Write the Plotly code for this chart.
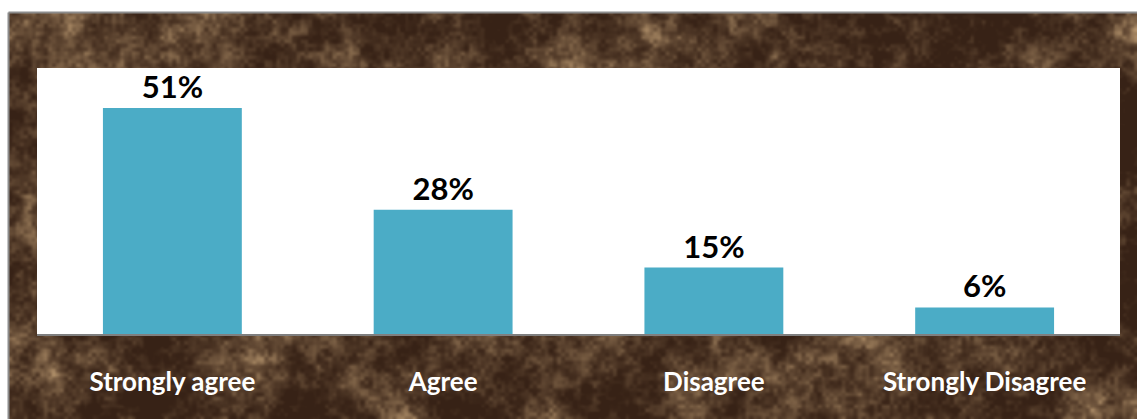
import base64
import struct
import zlib

import numpy as np
import plotly.graph_objects as go

# Survey responses
categories = ["Strongly agree", "Agree", "Disagree", "Strongly Disagree"]
shares = [51, 28, 15, 6]
share_labels = ["51%", "28%", "15%", "6%"]

W, H = 1137, 419
M_L, M_R, M_T, M_B = 37, 17, 68, 85
PW, PH = W - M_L - M_R, H - M_T - M_B


def encode_png(img):
    """Minimal RGB PNG writer (no external imaging library needed)."""
    h, w, _ = img.shape
    raw = b"".join(b"\x00" + img[r].tobytes() for r in range(h))

    def chunk(tag, data):
        c = struct.pack(">I", len(data)) + tag + data
        return c + struct.pack(">I", zlib.crc32(tag + data) & 0xFFFFFFFF)

    return (b"\x89PNG\r\n\x1a\n"
            + chunk(b"IHDR", struct.pack(">IIBBBBB", w, h, 8, 2, 0, 0, 0))
            + chunk(b"IDAT", zlib.compress(raw, 9))
            + chunk(b"IEND", b""))


def marble_texture(w, h):
    """Mottled brown marble backdrop built from layered value noise."""
    rng = np.random.default_rng(5)
    acc = np.zeros((h, w))
    amp, total = 1.0, 0.0
    for cells in (8, 22, 55, 130, 280):
        gh, gw = max(2, cells * h // w + 2), cells + 2
        grid = rng.random((gh, gw))
        ys = np.linspace(0, gh - 1.001, h)
        xs = np.linspace(0, gw - 1.001, w)
        y0, x0 = ys.astype(int), xs.astype(int)
        fy, fx = (ys - y0)[:, None], (xs - x0)[None, :]
        fy, fx = fy * fy * (3 - 2 * fy), fx * fx * (3 - 2 * fx)
        a = grid[y0][:, x0]
        b = grid[y0][:, x0 + 1]
        c = grid[y0 + 1][:, x0]
        d = grid[y0 + 1][:, x0 + 1]
        layer = (a * (1 - fx) + b * fx) * (1 - fy) + (c * (1 - fx) + d * fx) * fy
        acc += amp * layer
        total += amp
        amp *= 0.9
    n = acc / total
    n = (n - n.min()) / (n.max() - n.min())
    t = np.clip((n - 0.25) / 0.7, 0, 1) ** 1.6
    dark = np.array([55, 34, 22], float)
    light = np.array([185, 152, 112], float)
    img = dark + (light - dark) * t[..., None]
    return np.clip(img, 0, 255).astype(np.uint8)


tex = marble_texture(760, 275)
tex_uri = "data:image/png;base64," + base64.b64encode(encode_png(tex)).decode()


def px_x(p):
    return (p - M_L) / PW


def px_y(p):
    return (H - M_B - p) / PH


fig = go.Figure(
    go.Bar(
        x=categories,
        y=shares,
        text=share_labels,
        texttemplate="<b>%{text}</b>",
        textposition="outside",
        textfont=dict(family="Lato", size=31, color="#000000"),
        marker=dict(color="#4BACC6", line=dict(width=0)),
        cliponaxis=False,
        hoverinfo="skip",
    )
)

fig.update_layout(
    width=W,
    height=H,
    margin=dict(l=M_L, r=M_R, t=M_T, b=M_B),
    paper_bgcolor="#FFFFFF",
    plot_bgcolor="#FFFFFF",
    bargap=0.487,
    showlegend=False,
    font=dict(family="Lato"),
    images=[dict(
        source=tex_uri,
        xref="paper", yref="paper",
        x=px_x(9), y=px_y(13),
        sizex=px_x(W) - px_x(9), sizey=px_y(13) - px_y(H),
        xanchor="left", yanchor="top",
        sizing="stretch", layer="below",
    )],
    shapes=[
        # white chart area over the marble
        dict(type="rect", xref="paper", yref="paper", x0=0, x1=1, y0=0, y1=1,
             fillcolor="#FFFFFF", line=dict(width=0), layer="below"),
        # outer frame edges
        dict(type="line", xref="paper", yref="paper",
             x0=px_x(8.5), x1=px_x(W), y0=px_y(12.5), y1=px_y(12.5),
             line=dict(color="#8C8C8C", width=2)),
        dict(type="line", xref="paper", yref="paper",
             x0=px_x(8.5), x1=px_x(8.5), y0=px_y(12.5), y1=px_y(H),
             line=dict(color="#8C8C8C", width=2)),
    ],
)

fig.update_xaxes(
    tickvals=categories,
    ticktext=[f"<b>{c}</b>" for c in categories],
    showline=True, linecolor="#7F7F7F", linewidth=2,
    ticks="outside", ticklen=24, tickcolor="rgba(0,0,0,0)",
    tickfont=dict(family="Lato", size=26, color="#FFFFFF"),
    showgrid=False, fixedrange=True,
)
fig.update_yaxes(
    range=[0, 60], visible=False, showgrid=False, fixedrange=True,
)

fig.write_html("out.html")
